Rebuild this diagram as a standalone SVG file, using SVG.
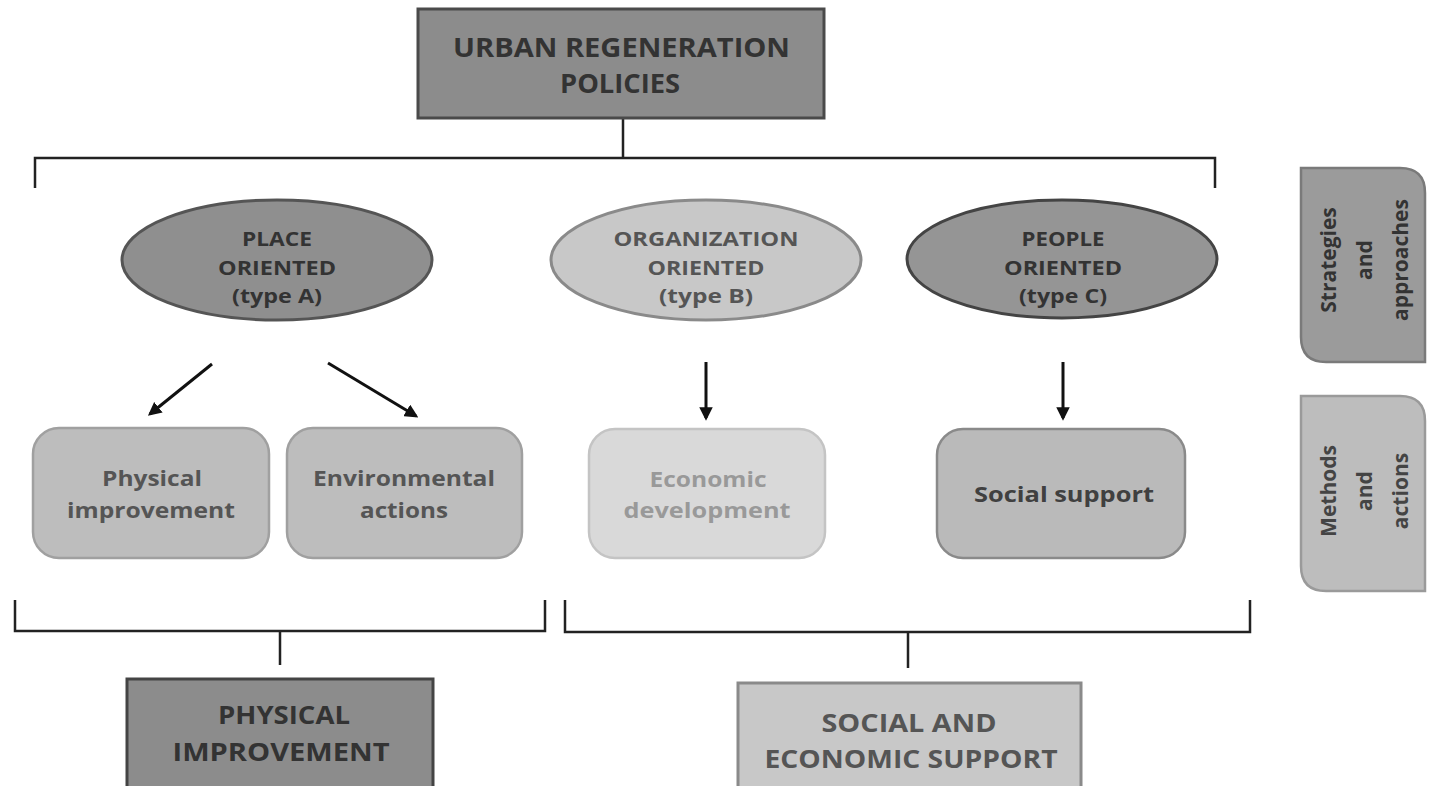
<svg xmlns="http://www.w3.org/2000/svg" width="1437" height="786" viewBox="0 0 1437 786">
<style>
text{font-family:"Open Sans","Liberation Sans",sans-serif;font-weight:bold;text-anchor:middle}
.dark{fill:#8c8c8c;stroke:#4a4a4a;stroke-width:3}
.t-dark{fill:#333333}
.t-mid{fill:#555555}
.t-light{fill:#999999}
.br{fill:none;stroke:#222;stroke-width:2.5}
.ar{stroke:#111;stroke-width:3;marker-end:url(#ah)}
</style>
<defs>
<marker id="ah" viewBox="0 0 10 10" refX="8" refY="5" markerWidth="4.5" markerHeight="4.5" orient="auto" markerUnits="strokeWidth">
<path d="M0,0 L10,5 L0,10 z" fill="#111"/>
</marker>
</defs>
<rect width="1437" height="786" fill="#ffffff"/>
<g id="connectors">
<path class="br" d="M623,118 V158 M35,188 V158 H1215 V188"/>
<path class="br" d="M15,600 V631 H545 V600 M280,631 V665"/>
<path class="br" d="M565,600 V632 H1250 V600 M908,632 V668"/>
<line class="ar" x1="212" y1="364" x2="150" y2="414"/>
<line class="ar" x1="328" y1="363" x2="416" y2="416"/>
<line class="ar" x1="706" y1="362" x2="706" y2="418"/>
<line class="ar" x1="1063" y1="362" x2="1063" y2="418"/>
</g>
<g id="urban">
<rect class="dark" x="418" y="9" width="406" height="109"/>
<text class="t-dark" x="621.5" y="57" font-size="27" textLength="337" lengthAdjust="spacingAndGlyphs">URBAN REGENERATION</text>
<text class="t-dark" x="620" y="93" font-size="27" textLength="120" lengthAdjust="spacingAndGlyphs">POLICIES</text>
</g>
<g id="placeA">
<ellipse cx="277" cy="260" rx="155" ry="60" fill="#8f8f8f" stroke="#555" stroke-width="3"/>
<text class="t-dark" x="277" y="246" font-size="19" textLength="70" lengthAdjust="spacingAndGlyphs">PLACE</text>
<text class="t-dark" x="277" y="275" font-size="19" textLength="118" lengthAdjust="spacingAndGlyphs">ORIENTED</text>
<text class="t-dark" x="277" y="303" font-size="19" textLength="90" lengthAdjust="spacingAndGlyphs">(type A)</text>
</g>
<g id="orgB">
<ellipse cx="706" cy="260" rx="155" ry="60" fill="#c8c8c8" stroke="#8a8a8a" stroke-width="3"/>
<text class="t-mid" x="706" y="246" font-size="19" textLength="185" lengthAdjust="spacingAndGlyphs">ORGANIZATION</text>
<text class="t-mid" x="706" y="275" font-size="19" textLength="117" lengthAdjust="spacingAndGlyphs">ORIENTED</text>
<text class="t-mid" x="706" y="303" font-size="19" textLength="94" lengthAdjust="spacingAndGlyphs">(type B)</text>
</g>
<g id="peopleC">
<ellipse cx="1062" cy="259" rx="155" ry="59" fill="#959595" stroke="#444" stroke-width="3"/>
<text class="t-dark" x="1063" y="246" font-size="19" textLength="83" lengthAdjust="spacingAndGlyphs">PEOPLE</text>
<text class="t-dark" x="1063" y="275" font-size="19" textLength="118" lengthAdjust="spacingAndGlyphs">ORIENTED</text>
<text class="t-dark" x="1063" y="303" font-size="19" textLength="88" lengthAdjust="spacingAndGlyphs">(type C)</text>
</g>
<g id="physical">
<rect x="33" y="428" width="236" height="130" rx="26" fill="#bdbdbd" stroke="#a0a0a0" stroke-width="2.5"/>
<text class="t-mid" x="152" y="486" font-size="22" textLength="100" lengthAdjust="spacingAndGlyphs">Physical</text>
<text class="t-mid" x="151" y="518" font-size="22" textLength="168" lengthAdjust="spacingAndGlyphs">improvement</text>
</g>
<g id="environmental">
<rect x="287" y="428" width="235" height="130" rx="26" fill="#bdbdbd" stroke="#a0a0a0" stroke-width="2.5"/>
<text class="t-mid" x="404" y="486" font-size="22" textLength="182" lengthAdjust="spacingAndGlyphs">Environmental</text>
<text class="t-mid" x="404" y="518" font-size="22" textLength="88" lengthAdjust="spacingAndGlyphs">actions</text>
</g>
<g id="economic">
<rect x="589" y="429" width="236" height="129" rx="26" fill="#d9d9d9" stroke="#c4c4c4" stroke-width="2.5"/>
<text class="t-light" x="708" y="487" font-size="22" textLength="117" lengthAdjust="spacingAndGlyphs">Economic</text>
<text class="t-light" x="707" y="518" font-size="22" textLength="167" lengthAdjust="spacingAndGlyphs">development</text>
</g>
<g id="social">
<rect x="937" y="429" width="248" height="129" rx="26" fill="#bababa" stroke="#8a8a8a" stroke-width="2.5"/>
<text x="1064" y="502" font-size="22" fill="#404040" textLength="180" lengthAdjust="spacingAndGlyphs">Social support</text>
</g>
<g id="strategies">
<path d="M1301,168 H1400 Q1425,168 1425,193 V362 H1326 Q1301,362 1301,337 Z" fill="#9b9b9b" stroke="#7a7a7a" stroke-width="2.5"/>
<g transform="translate(1363,260) rotate(-90)">
<text x="0" y="-27" font-size="21" fill="#333">Strategies</text>
<text x="0" y="9" font-size="21" fill="#333">and</text>
<text x="0" y="45" font-size="21" fill="#333">approaches</text>
</g>
</g>
<g id="methods">
<path d="M1301,396 H1400 Q1425,396 1425,421 V591 H1326 Q1301,591 1301,566 Z" fill="#bdbdbd" stroke="#9a9a9a" stroke-width="2.5"/>
<g transform="translate(1363,491) rotate(-90)">
<text x="0" y="-27" font-size="21" fill="#444">Methods</text>
<text x="0" y="9" font-size="21" fill="#444">and</text>
<text x="0" y="45" font-size="21" fill="#444">actions</text>
</g>
</g>
<g id="physicalImprovement">
<rect x="127" y="679" width="306" height="120" fill="#8c8c8c" stroke="#444" stroke-width="3"/>
<text class="t-dark" x="284" y="724" font-size="25" textLength="132" lengthAdjust="spacingAndGlyphs">PHYSICAL</text>
<text class="t-dark" x="281" y="761" font-size="25" textLength="217" lengthAdjust="spacingAndGlyphs">IMPROVEMENT</text>
</g>
<g id="socialEconomic">
<rect x="738" y="683" width="343" height="120" fill="#c8c8c8" stroke="#8a8a8a" stroke-width="3"/>
<text class="t-mid" x="909" y="732" font-size="25" textLength="175" lengthAdjust="spacingAndGlyphs">SOCIAL AND</text>
<text class="t-mid" x="911" y="768" font-size="25" textLength="293" lengthAdjust="spacingAndGlyphs">ECONOMIC SUPPORT</text>
</g>
</svg>
